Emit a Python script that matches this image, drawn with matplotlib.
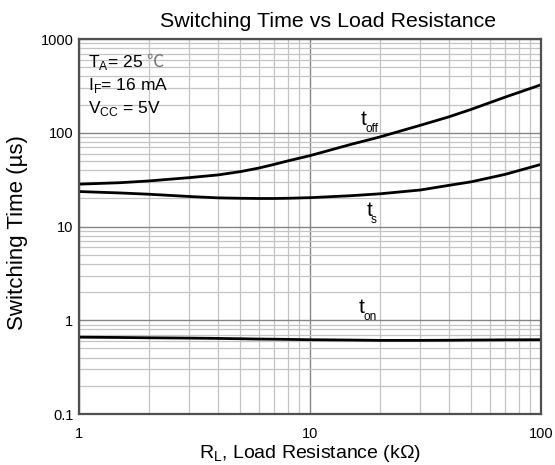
import matplotlib.pyplot as plt
from matplotlib.ticker import LogLocator, FixedLocator, NullFormatter

plt.rcParams['font.family'] = ['Liberation Sans', 'DejaVu Sans']

# load resistance (kOhm)
r_load = [1, 1.5, 2, 3, 4, 5, 6, 7, 8, 10, 15, 20, 30, 40, 50, 70, 100]
t_off = [28.3, 29.3, 30.6, 33.2, 35.5, 38.5, 42, 46, 50, 57, 75, 90, 120, 148, 178, 240, 325]
t_s = [23.6, 22.8, 22.1, 20.9, 20.2, 20.0, 19.9, 19.9, 20.0, 20.3, 21.3, 22.3, 24.5, 27.5, 30, 36, 46]
t_on = [0.66, 0.655, 0.65, 0.645, 0.64, 0.635, 0.63, 0.628, 0.625, 0.62, 0.615, 0.61, 0.61, 0.612, 0.615, 0.618, 0.62]

x_ticks = [1, 10, 100]
y_ticks = [0.1, 1, 10, 100, 1000]
y_ticklabels = ['0.1', '1', '10', '100', '1000']

# curve labels: (x, y, subscript)
curve_labels = [(16.5, 121, 'off'), (17.5, 12.9, 's'), (16.3, 1.2, 'on')]

fig = plt.figure(figsize=(5.55, 4.65), dpi=100)
ax = fig.add_axes([79/555, 1-414/465, (541-79)/555, (414-39)/465])

ax.set_xscale('log')
ax.set_yscale('log')
ax.set_xlim(1, 100)
ax.set_ylim(0.1, 1000)

ax.plot(r_load, t_off, color='black', lw=2)
ax.plot(r_load, t_s, color='black', lw=2)
ax.plot(r_load, t_on, color='black', lw=2)

ax.xaxis.set_major_locator(FixedLocator(x_ticks))
ax.set_xticklabels([str(v) for v in x_ticks])
ax.yaxis.set_major_locator(FixedLocator(y_ticks))
ax.set_yticklabels(y_ticklabels)
ax.xaxis.set_minor_locator(LogLocator(base=10, subs=range(2, 10)))
ax.yaxis.set_minor_locator(LogLocator(base=10, subs=range(2, 10)))
ax.xaxis.set_minor_formatter(NullFormatter())
ax.yaxis.set_minor_formatter(NullFormatter())

ax.grid(True, which='major', color='#858585', lw=1.0)
ax.grid(True, which='minor', color='#c4c4c4', lw=0.9)
ax.tick_params(which='both', length=0, labelsize=10.5)
ax.tick_params(axis='x', pad=9)
ax.tick_params(axis='y', pad=4)
for s in ax.spines.values():
    s.set_color('#505050')
    s.set_linewidth(1.6)

fig.text(328/555, 1-27/465, 'Switching Time vs Load Resistance', fontsize=15.4,
         ha='center', va='baseline')
ax.set_xlabel('R$_\\mathregular{L}$, Load Resistance (kΩ)', fontsize=14, labelpad=2)
ax.set_ylabel('Switching Time (µs)', fontsize=16)
ax.yaxis.set_label_coords(-51/462, 1-(233-39)/375)

# test conditions
ax.text(0.02, 0.926, 'T$_\\mathregular{A}$= 25', transform=ax.transAxes, fontsize=12.5, va='baseline')
ax.text(0.146, 0.926, '℃', transform=ax.transAxes, fontsize=12.5, va='baseline', color='#777777',
        family=['Noto Sans CJK SC', 'DejaVu Sans'])
ax.text(0.02, 0.864, 'I$_\\mathregular{F}$= 16 mA', transform=ax.transAxes, fontsize=12.5, va='baseline')
ax.text(0.02, 0.803, 'V$_\\mathregular{CC}$ = 5V', transform=ax.transAxes, fontsize=12.5, va='baseline')

for x, y, sub in curve_labels:
    ax.text(x, y, 't', fontsize=15, va='baseline')
    ax.annotate(sub, xy=(x, y), xytext=(3.5, -5), textcoords='offset points',
                fontsize=8.5, va='baseline')

plt.savefig('out.png', dpi=100)
